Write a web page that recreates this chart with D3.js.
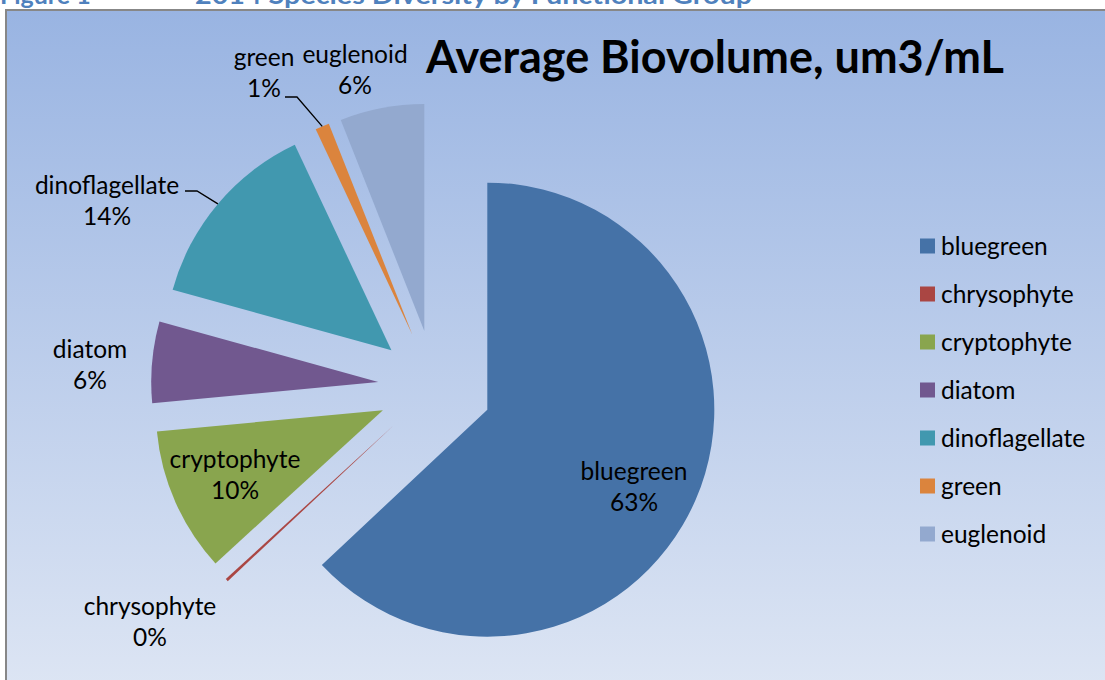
<!DOCTYPE html>
<html>
<head>
<meta charset="utf-8">
<script src="https://cdn.jsdelivr.net/npm/d3@7"></script>
<style>
  body { margin: 0; background: #fff; }
  svg { display: block; font-family: Lato, "Open Sans", sans-serif; }
</style>
</head>
<body>
<svg id="chart" width="1105" height="680"></svg>
<script>
// data
const groups = ["bluegreen", "chrysophyte", "cryptophyte", "diatom", "dinoflagellate", "green", "euglenoid"];
const biovolume = [63.0, 0.2, 10.3, 5.8, 13.7, 1.0, 6.0];
const colors = ["#4572A7", "#AA4643", "#89A54E", "#71588F", "#4198AF", "#DB843D", "#93A9CF"];

// label centres relative to the pie centre (best-fit placement)
const labelAt = [[199, 99], [-285, 234], [-200, 87], [-345, -23], [-328, -187], [-171, -315], [-80, -318]];
// leader elbows (relative to pie centre), null = no leader
const leaderAt = [null, null, null, null, [-238, -196], [-138, -290], null];

const svg = d3.select("#chart");
const W = 1105, H = 680;
const cx = 435, cy = 387, radius = 227, explode = 57;

// background gradient
const defs = svg.append("defs");
const grad = defs.append("linearGradient")
    .attr("id", "bg").attr("x1", 0).attr("y1", 0).attr("x2", 0).attr("y2", 1);
grad.append("stop").attr("offset", "0%").attr("stop-color", "#99B4E2");
grad.append("stop").attr("offset", "100%").attr("stop-color", "#DEE6F4");

// clipped heading from the page above the chart
svg.append("text")
    .attr("x", 0).attr("y", 4)
    .style("font-weight", "bold").style("font-size", "25px")
    .attr("fill", "#4F81BD")
    .text("Figure 1");
svg.append("text")
    .attr("x", 195).attr("y", 4)
    .style("font-weight", "bold").style("font-size", "25px")
    .attr("fill", "#4F81BD")
    .attr("textLength", 557).attr("lengthAdjust", "spacingAndGlyphs")
    .text("2014 Species Diversity by Functional Group");

svg.append("rect")
    .attr("x", 6).attr("y", 10)
    .attr("width", W + 10).attr("height", H + 10)
    .attr("fill", "url(#bg)")
    .attr("stroke", "#878787").attr("stroke-width", 2);

// title
svg.append("text")
    .attr("x", 715).attr("y", 73)
    .attr("text-anchor", "middle")
    .style("font-weight", "bold").style("font-size", "45px")
    .attr("fill", "#000")
    .text("Average Biovolume, um3/mL");

const pie = d3.pie().sort(null).value(d => d);
const arcs = pie(biovolume);
const arc = d3.arc().innerRadius(0).outerRadius(radius);

const dir = a => [Math.sin(a), -Math.cos(a)];

const g = svg.append("g").attr("transform", `translate(${cx},${cy})`);

g.selectAll("path.slice")
    .data(arcs)
    .join("path")
    .attr("class", "slice")
    .attr("d", arc)
    .attr("fill", (d, i) => colors[i])
    .attr("transform", d => {
        const [ux, uy] = dir((d.startAngle + d.endAngle) / 2);
        return `translate(${ux * explode},${uy * explode})`;
    });

// leader lines
g.selectAll("path.leader")
    .data(arcs.filter((d, i) => leaderAt[i]))
    .join("path")
    .attr("class", "leader")
    .attr("fill", "none")
    .attr("stroke", "#000")
    .attr("stroke-width", 1.3)
    .attr("d", d => {
        const [ux, uy] = dir((d.startAngle + d.endAngle) / 2);
        const p = [ux * (radius + explode), uy * (radius + explode)];
        const e = leaderAt[d.index];
        return d3.line()([p, e, [e[0] - 12, e[1]]]);
    });

const total = d3.sum(biovolume);
const labels = g.selectAll("text.label")
    .data(arcs)
    .join("text")
    .attr("class", "label")
    .attr("text-anchor", "middle")
    .style("font-size", "24.5px")
    .attr("fill", "#000")
    .attr("transform", (d, i) => `translate(${labelAt[i][0]},${labelAt[i][1]})`);
labels.append("tspan").attr("x", 0).attr("y", -15).attr("dy", "0.35em").text((d, i) => groups[i]);
labels.append("tspan").attr("x", 0).attr("y", 16).attr("dy", "0.35em")
    .text(d => Math.round(d.value / total * 100) + "%");

// legend
const ly = d3.scalePoint().domain(groups).range([246, 534]);
const legend = svg.append("g").selectAll("g")
    .data(groups)
    .join("g")
    .attr("transform", d => `translate(920,${ly(d)})`);
legend.append("rect")
    .attr("x", 0).attr("y", -7.5)
    .attr("width", 15).attr("height", 15)
    .attr("fill", (d, i) => colors[i]);
legend.append("text")
    .attr("x", 21).attr("dy", "0.35em")
    .style("font-size", "24.5px")
    .attr("fill", "#000")
    .text(d => d);
</script>
</body>
</html>
